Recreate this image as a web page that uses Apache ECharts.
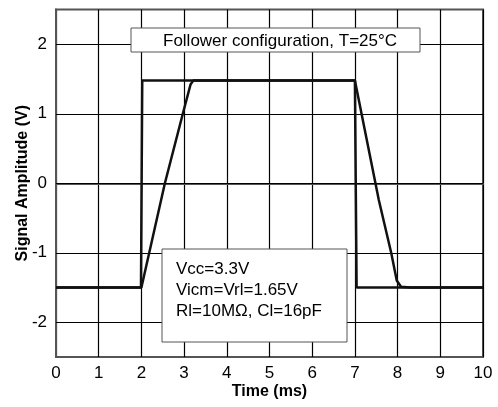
<!DOCTYPE html>
<html><head><meta charset="utf-8">
<script src="https://cdn.jsdelivr.net/npm/echarts@6/dist/echarts.min.js"></script>
<style>html,body{margin:0;padding:0;background:#fff}#c{width:498px;height:407px}</style>
</head><body><div id="c"></div>
<script>
// Data (time in ms, amplitude in V)
const inputTime = [0, 1.99, 2.02, 7.0, 7.04, 10];
const inputAmp  = [-1.5, -1.5, 1.48, 1.48, -1.5, -1.5];
const outputTime = [0, 2.0, 2.55, 2.97, 3.15, 3.22, 7.0, 7.56, 7.85, 7.98, 8.08, 8.3, 10];
const outputAmp  = [-1.5, -1.5, 0, 1, 1.42, 1.48, 1.48, -0.24, -1, -1.4, -1.49, -1.5, -1.5];
const xTicks = [0,1,2,3,4,5,6,7,8,9,10];
const yTicks = [-2,-1,0,1,2];
const titleText = 'Follower configuration, T=25°C';
const noteLines = ['Vcc=3.3V', 'Vicm=Vrl=1.65V', 'Rl=10MΩ, Cl=16pF'];

const FONT = '"Liberation Sans", Arial, sans-serif';
const chart = echarts.init(document.getElementById('c'), null, {renderer: 'canvas'});
const zip = (a, b) => a.map((v, i) => [v, b[i]]);

const option = {
  animation: false,
  backgroundColor: '#fff',
  grid: {left: 56, right: 15, top: 9.5, bottom: 50, show: true, borderColor: '#555', borderWidth: 2},
  xAxis: {
    type: 'value', min: 0, max: 10, interval: 1,
    name: 'Time (ms)', nameLocation: 'middle', nameGap: 27, nameMoveOverlap: false,
    nameTextStyle: {fontFamily: FONT, fontSize: 16, fontWeight: 'bold', color: '#000'},
    axisLine: {show: true, lineStyle: {color: '#555', width: 2}},
    axisTick: {show: false},
    axisLabel: {fontFamily: FONT, fontSize: 17, color: '#000', margin: 8},
    splitLine: {show: true, lineStyle: {color: '#000', width: 1.2}}
  },
  yAxis: {
    type: 'value', min: -2.5, max: 2.5,
    name: 'Signal Amplitude (V)', nameLocation: 'middle', nameGap: 25, nameMoveOverlap: false,
    nameTextStyle: {fontFamily: FONT, fontSize: 16, fontWeight: 'bold', color: '#000'},
    axisLine: {show: true, lineStyle: {color: '#555', width: 2}},
    axisTick: {show: false, customValues: yTicks},
    axisLabel: {fontFamily: FONT, fontSize: 17, color: '#000', margin: 9, customValues: yTicks},
    splitLine: {show: false}
  },
  series: [
    {
      type: 'line', data: zip(inputTime, inputAmp), symbol: 'none', z: 5,
      lineStyle: {color: '#111', width: 2.5},
      markLine: {
        silent: true, symbol: 'none', label: {show: false}, z: 1,
        lineStyle: {color: '#000', width: 1.2, type: 'solid'},
        data: yTicks.map(v => ({yAxis: v}))
      }
    },
    {
      type: 'line', data: zip(outputTime, outputAmp), symbol: 'none', z: 5,
      lineStyle: {color: '#111', width: 2.5}
    }
  ],
  graphic: [
    {type: 'rect', shape: {x: 131, y: 28, width: 289, height: 24}, z: 100,
     style: {fill: '#fff', stroke: '#555', lineWidth: 1}},
    {type: 'text', x: 163, y: 41, z: 101,
     style: {text: titleText, font: '17px ' + FONT, fill: '#000', textAlign: 'left', textVerticalAlign: 'middle'}},
    {type: 'rect', shape: {x: 162, y: 249, width: 185, height: 93}, z: 100,
     style: {fill: '#fff', stroke: '#555', lineWidth: 1}},
    ...noteLines.map((t, i) => ({type: 'text', x: 176, y: 269 + i * 21, z: 101,
      style: {text: t, font: '17px ' + FONT, fill: '#000', textAlign: 'left', textVerticalAlign: 'middle'}}))
  ]
};
chart.setOption(option);
</script>
</body></html>
